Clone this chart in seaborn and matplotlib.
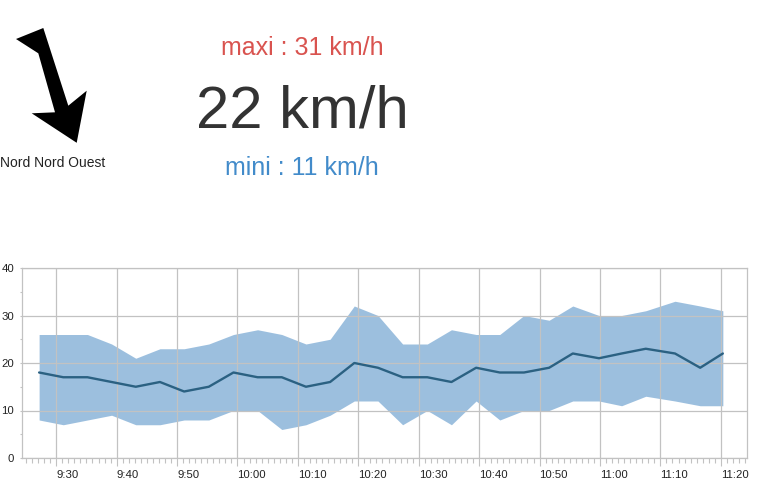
import matplotlib
matplotlib.use("Agg")
import matplotlib.pyplot as plt
import matplotlib.dates as mdates
from matplotlib.patches import Polygon
from matplotlib.ticker import MultipleLocator, FuncFormatter
import pandas as pd
import seaborn as sns

# wind readings (km/h), one every ~4 minutes
times = ["09:27:10", "09:31:10", "09:35:10", "09:39:10", "09:43:10", "09:47:10", "09:51:10",
         "09:55:15", "09:59:20", "10:03:20", "10:07:20", "10:11:20", "10:15:20", "10:19:20",
         "10:23:15", "10:27:20", "10:31:25", "10:35:25", "10:39:30", "10:43:25", "10:47:25",
         "10:51:35", "10:55:30", "10:59:50", "11:03:35", "11:07:35", "11:12:25", "11:16:35",
         "11:20:20"]
wind_avg = [18, 17, 17, 16, 15, 16, 14, 15, 18, 17, 17, 15, 16, 20,
            19, 17, 17, 16, 19, 18, 18, 19, 22, 21, 22, 23, 22, 19, 22]
wind_max = [26, 26, 26, 24, 21, 23, 23, 24, 26, 27, 26, 24, 25, 32,
            30, 24, 24, 27, 26, 26, 30, 29, 32, 30, 30, 31, 33, 32, 31]
wind_min = [8, 7, 8, 9, 7, 7, 8, 8, 10, 10, 6, 7, 9, 12,
            12, 7, 10, 7, 12, 8, 10, 10, 12, 12, 11, 13, 12, 11, 11]
direction = "Nord Nord Ouest"
window = ("09:24:20", "11:24:20")

# wind direction icon outline (pixels)
arrow_icon = [(43.3, 28.0), (16.0, 39.0), (38.3, 53.3), (55.0, 112.3), (31.7, 113.3),
              (76.7, 142.8), (86.7, 90.7), (68.3, 105.7)]

day = "2021-01-01 "
df = pd.DataFrame({
    "time": pd.to_datetime([day + t for t in times]),
    "avg": wind_avg,
    "max": wind_max,
    "min": wind_min,
})

sns.set_theme(style="white")
plt.rcParams["font.family"] = ["Liberation Sans", "DejaVu Sans"]

W, H = 766, 500
fig = plt.figure(figsize=(W / 100, H / 100), dpi=100)

# --- chart
ax = fig.add_axes([22 / W, 42 / H, 725 / W, 190 / H])
ax.fill_between(df["time"], df["min"], df["max"], color="#3a80bf", alpha=0.5, lw=0, zorder=1)
sns.lineplot(data=df, x="time", y="avg", color="#2b6182", lw=1.7, ax=ax, zorder=3)

grey = "#c2c2c2"
ax.set_xlim(pd.Timestamp(day + window[0]), pd.Timestamp(day + window[1]))
ax.set_ylim(0, 40)
ax.yaxis.set_major_locator(MultipleLocator(10))
ax.yaxis.set_minor_locator(MultipleLocator(5))
ax.xaxis.set_major_locator(mdates.MinuteLocator(byminute=range(0, 60, 10)))
ax.xaxis.set_minor_locator(mdates.MinuteLocator())


def hm(v, pos):
    d = mdates.num2date(v)
    return f"{d.hour}:{d.minute:02d}"


ax.xaxis.set_major_formatter(FuncFormatter(hm))
ax.set_axisbelow(False)
ax.grid(True, which="major", color=grey, lw=0.9, zorder=2)
for s in ax.spines.values():
    s.set_color(grey)
    s.set_linewidth(0.9)
ax.tick_params(axis="x", which="major", length=6, width=0.8, color=grey, labelsize=8.2,
               pad=2.5, labelcolor="#222222", bottom=True)
ax.tick_params(axis="x", which="minor", length=3.5, width=0.8, color=grey, bottom=True)
ax.tick_params(axis="y", which="both", length=1.8, width=0.8, color=grey, labelsize=8.2,
               pad=4, labelcolor="#222222", left=True)
ax.set_xlabel("")
ax.set_ylabel("")

fig.canvas.draw()
plt.setp(ax.get_xticklabels(), ha="left")

# --- header
ov = fig.add_axes([0, 0, 1, 1], zorder=-1)
ov.set_xlim(0, W)
ov.set_ylim(H, 0)
ov.axis("off")

ov.add_patch(Polygon(arrow_icon, closed=True, color="black", lw=0))
ov.text(53, 167, direction, ha="center", va="baseline", fontsize=10, color="#222222")

cx = 302
ov.text(cx, 55, f"maxi : {df['max'].iloc[-1]} km/h", ha="center", va="baseline",
        fontsize=18, color="#d9534f")
ov.text(cx, 127, f"{df['avg'].iloc[-1]} km/h", ha="center", va="baseline",
        fontsize=43, color="#333333")
ov.text(cx, 175, f"mini : {df['min'].iloc[-1]} km/h", ha="center", va="baseline",
        fontsize=18, color="#428bca")

fig.savefig("out.png", dpi=100)
